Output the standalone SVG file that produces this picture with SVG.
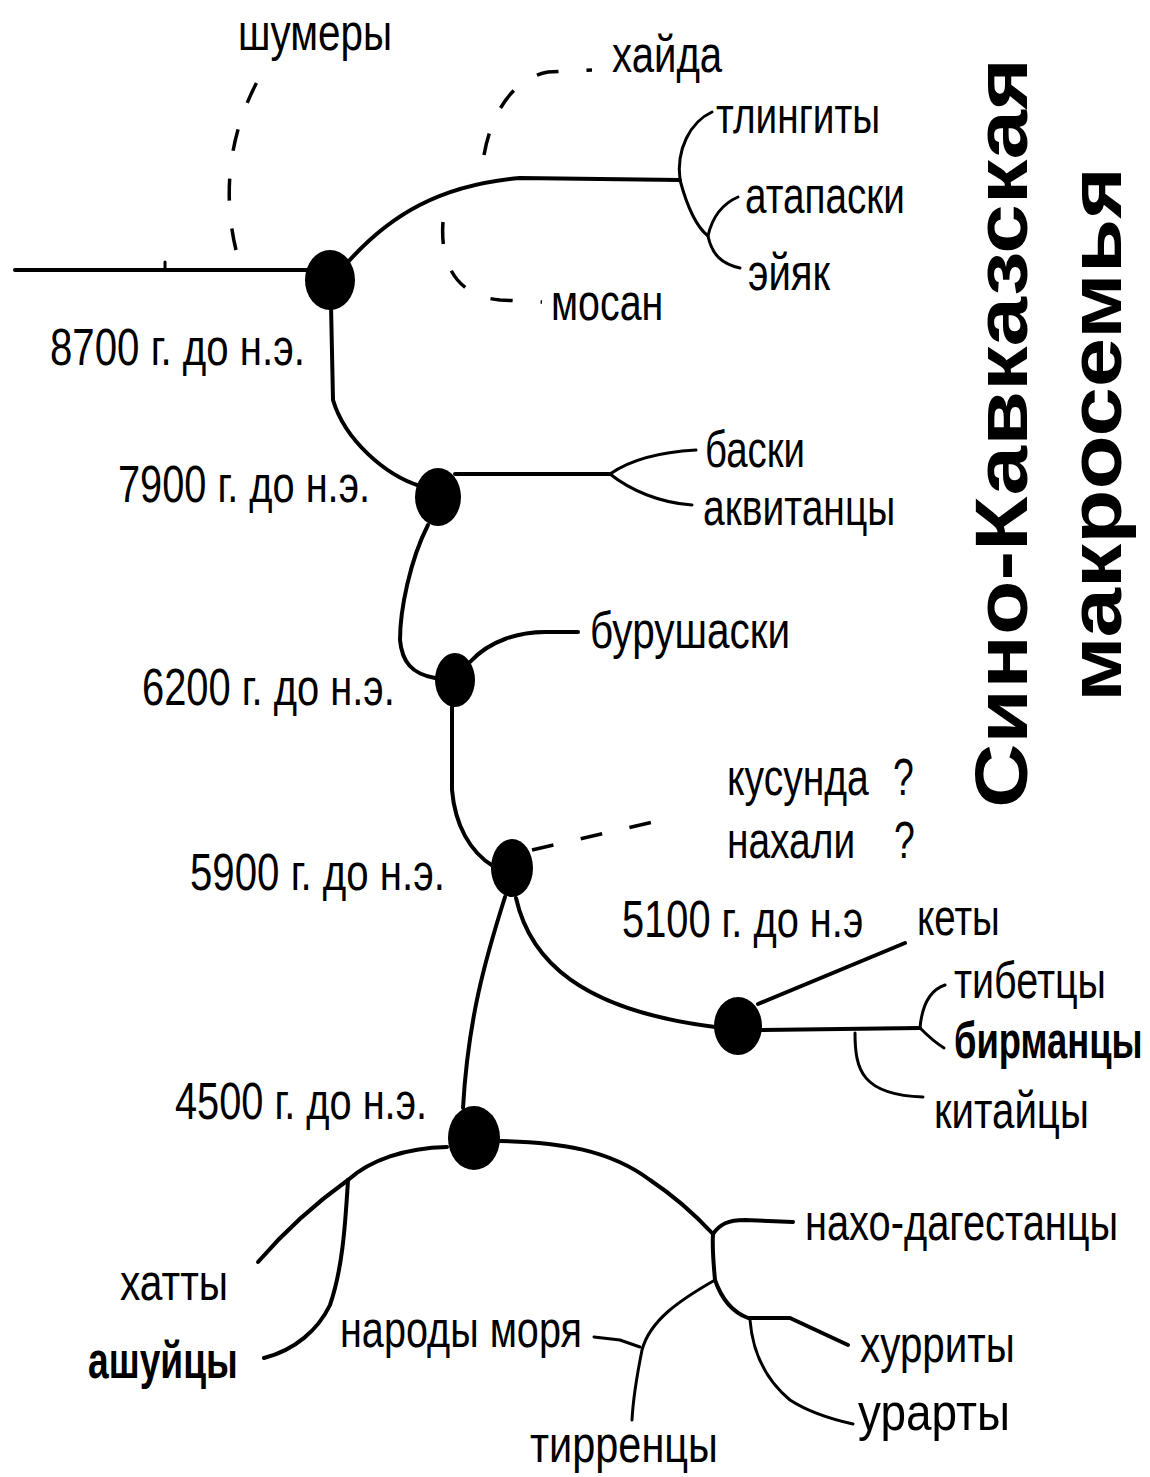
<svg xmlns="http://www.w3.org/2000/svg" width="1150" height="1477" viewBox="0 0 1150 1477">
<style>
.ln{fill:none;stroke:#000;stroke-width:4;stroke-linecap:round;stroke-linejoin:round}
.th{fill:none;stroke:#000;stroke-width:3;stroke-linecap:round}
.ds{fill:none;stroke:#000;stroke-width:3.5;stroke-dasharray:22 28}
.nd{fill:#000}
text{font-family:"Liberation Sans","Arial",sans-serif;fill:#000}
.lb{font-size:52px}
.dt{font-size:52px}
.bd{font-weight:bold}
.tt{font-size:74px;font-weight:bold}
</style>
<rect width="1150" height="1477" fill="#fff"/>
<g id="connectors">
  <path class="ln" d="M15,270 L310,270"/>
  <path class="th" d="M165,262 L165,270"/>
  <path class="ds" d="M236,250 C224,200 226,140 258,80"/>
  <path class="ln" d="M348,262 C390,215 440,185 520,178 L680,180"/>
  <path class="ds" d="M484,155 C492,110 515,78 548,72 L592,70"/>
  <path class="ds" d="M443,222 C440,262 455,296 500,300 L542,302"/>
  <path class="th" d="M680,180 C676,150 690,122 712,112"/>
  <path class="th" d="M680,180 C688,210 698,228 708,236 C712,255 722,264 740,268"/>
  <path class="th" d="M708,236 C712,218 722,204 738,197"/>
  <path class="ln" d="M331,305 L333,400 C345,440 385,475 420,486"/>
  <path class="ln" d="M455,474 L610,474"/>
  <path class="th" d="M610,474 C630,460 660,452 696,450"/>
  <path class="th" d="M610,474 C630,490 660,503 692,505"/>
  <path class="ln" d="M428,525 C410,560 400,610 400,640 C402,662 412,674 435,678"/>
  <path class="ln" d="M470,662 C490,640 520,632 545,632 L578,632"/>
  <path class="ln" d="M452,707 L452,790 C455,825 470,852 493,866"/>
  <path class="ds" d="M532,850 L662,820"/>
  <path class="ln" d="M516,898 C530,960 580,1010 715,1027"/>
  <path class="ln" d="M758,1004 L905,943"/>
  <path class="ln" d="M760,1030 L920,1028"/>
  <path class="th" d="M920,1028 C922,1005 930,990 945,985"/>
  <path class="th" d="M920,1028 C928,1036 936,1043 944,1048"/>
  <path class="th" d="M855,1033 C855,1070 862,1095 923,1097"/>
  <path class="ln" d="M505,897 C485,960 468,1020 463,1108"/>
  <path class="ln" d="M447,1147 C405,1148 370,1160 348,1180 C320,1200 290,1225 258,1262"/>
  <path class="ln" d="M348,1180 C345,1230 342,1270 330,1305 C318,1330 295,1350 264,1358"/>
  <path class="ln" d="M500,1141 C560,1142 610,1150 650,1180 C680,1200 700,1220 713,1234"/>
  <path class="ln" d="M713,1234 C720,1224 728,1220 745,1220 L793,1222"/>
  <path class="ln" d="M713,1234 C712,1250 714,1268 715,1280"/>
  <path class="th" d="M715,1280 C680,1300 650,1320 642,1350 C636,1380 633,1400 632,1420"/>
  <path class="th" d="M594,1337 L620,1340 L640,1347"/>
  <path class="ln" d="M715,1280 C722,1300 732,1312 748,1318 L790,1318 L848,1345"/>
  <path class="th" d="M750,1320 C752,1345 760,1375 790,1400 C810,1413 835,1420 853,1424"/>
</g>
<g id="node-8700"><ellipse class="nd" cx="330" cy="280" rx="25" ry="30"/><text class="dt" transform="translate(50,365) scale(0.72,1)" textLength="354" lengthAdjust="spacingAndGlyphs">8700 г. до н.э.</text></g>
<g id="node-7900"><ellipse class="nd" cx="438" cy="497" rx="23" ry="29"/><text class="dt" transform="translate(118,502) scale(0.72,1)" textLength="350" lengthAdjust="spacingAndGlyphs">7900 г. до н.э.</text></g>
<g id="node-6200"><ellipse class="nd" cx="455" cy="680" rx="20" ry="27"/><text class="dt" transform="translate(142,705) scale(0.72,1)" textLength="351" lengthAdjust="spacingAndGlyphs">6200 г. до н.э.</text></g>
<g id="node-5900"><ellipse class="nd" cx="512" cy="868" rx="21" ry="29"/><text class="dt" transform="translate(190,890) scale(0.72,1)" textLength="354" lengthAdjust="spacingAndGlyphs">5900 г. до н.э.</text></g>
<g id="node-5100"><ellipse class="nd" cx="738" cy="1026" rx="24" ry="29"/><text class="dt" transform="translate(622,937) scale(0.72,1)" textLength="335" lengthAdjust="spacingAndGlyphs">5100 г. до н.э</text></g>
<g id="node-4500"><ellipse class="nd" cx="474" cy="1138" rx="26" ry="32"/><text class="dt" transform="translate(175,1119) scale(0.72,1)" textLength="350" lengthAdjust="spacingAndGlyphs">4500 г. до н.э.</text></g>
<g id="labels">
  <text class="lb" transform="translate(238,50) scale(0.72,1)" textLength="214" lengthAdjust="spacingAndGlyphs">шумеры</text>
  <text class="lb" transform="translate(612,72) scale(0.72,1)" textLength="153" lengthAdjust="spacingAndGlyphs">хайда</text>
  <text class="lb" transform="translate(716,133) scale(0.72,1)" textLength="228" lengthAdjust="spacingAndGlyphs">тлингиты</text>
  <text class="lb" transform="translate(745,213) scale(0.72,1)" textLength="222" lengthAdjust="spacingAndGlyphs">атапаски</text>
  <text class="lb" transform="translate(748,290) scale(0.72,1)" textLength="114" lengthAdjust="spacingAndGlyphs">эйяк</text>
  <text class="lb" transform="translate(551,320) scale(0.72,1)" textLength="156" lengthAdjust="spacingAndGlyphs">мосан</text>
  <text class="lb" transform="translate(705,467) scale(0.72,1)" textLength="139" lengthAdjust="spacingAndGlyphs">баски</text>
  <text class="lb" transform="translate(703,525) scale(0.72,1)" textLength="267" lengthAdjust="spacingAndGlyphs">аквитанцы</text>
  <text class="lb" transform="translate(590,648) scale(0.72,1)" textLength="278" lengthAdjust="spacingAndGlyphs">бурушаски</text>
  <text class="lb" transform="translate(727,795) scale(0.72,1)" textLength="197" lengthAdjust="spacingAndGlyphs">кусунда</text>
  <text class="lb" transform="translate(893,795) scale(0.72,1)">?</text>
  <text class="lb" transform="translate(727,858) scale(0.72,1)" textLength="178" lengthAdjust="spacingAndGlyphs">нахали</text>
  <text class="lb" transform="translate(894,858) scale(0.72,1)">?</text>
  <text class="lb" transform="translate(917,935) scale(0.72,1)" textLength="115" lengthAdjust="spacingAndGlyphs">кеты</text>
  <text class="lb" transform="translate(954,998) scale(0.72,1)" textLength="211" lengthAdjust="spacingAndGlyphs">тибетцы</text>
  <text class="lb bd" transform="translate(954,1058) scale(0.72,1)" textLength="262" lengthAdjust="spacingAndGlyphs">бирманцы</text>
  <text class="lb" transform="translate(934,1128) scale(0.72,1)" textLength="215" lengthAdjust="spacingAndGlyphs">китайцы</text>
  <text class="lb" transform="translate(805,1240) scale(0.72,1)" textLength="435" lengthAdjust="spacingAndGlyphs">нахо-дагестанцы</text>
  <text class="lb" transform="translate(120,1300) scale(0.72,1)" textLength="150" lengthAdjust="spacingAndGlyphs">хатты</text>
  <text class="lb bd" transform="translate(88,1378) scale(0.72,1)" textLength="208" lengthAdjust="spacingAndGlyphs">ашуйцы</text>
  <text class="lb" transform="translate(340,1347) scale(0.72,1)" textLength="336" lengthAdjust="spacingAndGlyphs">народы моря</text>
  <text class="lb" transform="translate(860,1362) scale(0.72,1)" textLength="215" lengthAdjust="spacingAndGlyphs">хурриты</text>
  <text class="lb" transform="translate(858,1430) scale(0.72,1)" textLength="211" lengthAdjust="spacingAndGlyphs">урарты</text>
  <text class="lb" transform="translate(530,1462) scale(0.72,1)" textLength="261" lengthAdjust="spacingAndGlyphs">тирренцы</text>
</g>
<g id="title">
  <text class="tt" transform="translate(1027,808) rotate(-90)" textLength="750" lengthAdjust="spacingAndGlyphs">Сино-Кавказская</text>
  <text class="tt" transform="translate(1121,702) rotate(-90)" textLength="535" lengthAdjust="spacingAndGlyphs">макросемья</text>
</g>
</svg>
